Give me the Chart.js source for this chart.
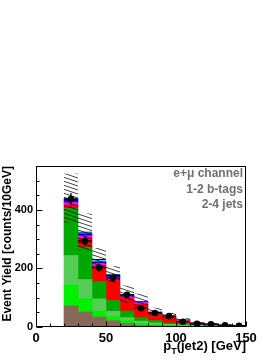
<!DOCTYPE html>
<html><head><meta charset="utf-8">
<script src="https://cdn.jsdelivr.net/npm/chart.js@4.4.0/dist/chart.umd.min.js"></script>
<style>html,body{margin:0;padding:0;background:#fff;} canvas{display:block;}</style>
</head><body>
<canvas id="c" width="279" height="361"></canvas>
<script>
// ---- data ----
const binCenters = [25, 35, 45, 55, 65, 75, 85, 95, 105, 115, 125, 135, 145];
const binHalfWidth = 5;
const mcBrown      = [72, 51, 34, 21, 12, 5, 4, 3, 2, 1, 1, 0.5, 0.4];
const mcBrightGrn  = [71, 45, 20, 14, 10, 7, 4, 3, 2, 2, 1, 0.8, 0.5];
const mcLightGrn   = [101, 66, 42, 19, 10, 8, 6, 3, 3, 2, 1, 0.8, 0.6];
const mcDarkGrn    = [161, 110, 59, 37, 22, 12, 8, 4, 4, 3, 2, 1.2, 0.8];
const mcRed        = [11, 31, 54, 67, 44, 46, 23, 20, 10, 5, 4, 2.5, 1.5];
const mcMagenta    = [11, 9, 9, 12, 8, 6, 4, 3, 2, 2, 1, 0.7, 0.4];
const mcBlue       = [11, 7, 5, 7, 4, 3, 2, 1, 1, 0.5, 0.5, 0.3, 0.2];
const mcCyan       = [2, 6, 8, 3, 2, 1, 1, 1, 0.5, 0.3, 0.3, 0.2, 0.1];
const mcErr        = [84, 63, 39, 28, 30, 26, 14, 10, 6, 4, 3, 2, 1.5];
const dataYield    = [437, 294, 203, 167, 110, 64, 48, 37, 18, 11, 9, 6, 4];
const dataErr      = [21, 17, 14, 13, 10, 8, 7, 6, 4, 3, 3, 2, 2];
const xMajorTicks  = [0, 50, 100, 150];
const xMinorTicks  = [10, 20, 30, 40, 60, 70, 80, 90, 110, 120, 130, 140];
const yMajorTicks  = [0, 200, 400];
const yMinorTicks  = [50, 100, 150, 250, 300, 350, 450, 500];
const annotation   = ['e+\u03bc channel', '1-2 b-tags', '2-4 jets'];
const yTitle = 'Event Yield [counts/10GeV]';
const xTitleMain = 'p', xTitleSub = 'T', xTitleRest = '(jet2) [GeV]';

const components = [
  {arr: mcBrown, color: '#86695a'},
  {arr: mcBrightGrn, color: '#00f000'},
  {arr: mcLightGrn, color: '#55cc55'},
  {arr: mcDarkGrn, color: '#00a800'},
  {arr: mcRed, color: '#ff0000'},
  {arr: mcMagenta, color: '#ff00ff'},
  {arr: mcBlue, color: '#0000ff'},
  {arr: mcCyan, color: '#00ffff'}
];
const mcTotal = binCenters.map((_, i) => components.reduce((s, c) => s + c.arr[i], 0));

// hatch pattern
function makeHatch() {
  const p = document.createElement('canvas');
  p.width = 12; p.height = 4;
  const g = p.getContext('2d');
  g.strokeStyle = 'rgba(0,0,0,0.8)';
  g.lineWidth = 0.9;
  g.beginPath();
  g.moveTo(-12, -4); g.lineTo(24, 8);
  g.moveTo(-12, 0); g.lineTo(12, 8);
  g.moveTo(0, -4); g.lineTo(24, 4);
  g.stroke();
  return g.createPattern(p, 'repeat');
}

const FONT = 'Liberation Sans, Arial, Helvetica, sans-serif';

const datasets = [];
datasets.push({
  type: 'line', label: 'Data', stack: 'data', order: 0,
  data: binCenters.map((x, i) => ({x, y: dataYield[i]})),
  showLine: false, pointRadius: 3.3, pointBackgroundColor: '#000', pointBorderColor: '#000', pointBorderWidth: 0
});
datasets.push({
  type: 'bar', label: 'MC uncertainty', stack: 'err', order: 1, grouped: false,
  data: binCenters.map((x, i) => ({x, y: [mcTotal[i] - mcErr[i], mcTotal[i] + mcErr[i]]})),
  backgroundColor: makeHatch(), borderWidth: 0, barPercentage: 1, categoryPercentage: 1, inflateAmount: 0
});
components.forEach((c, k) => {
  datasets.push({
    type: 'bar', label: 'c' + k, stack: 'mc', order: 2,
    data: binCenters.map((x, i) => ({x, y: c.arr[i]})),
    backgroundColor: c.color,
    borderColor: '#000',
    borderWidth: k === components.length - 1 ? {top: 1, left: 0, right: 0, bottom: 0} : 0,
    borderSkipped: false,
    barPercentage: 1, categoryPercentage: 1
  });
});

const decor = {
  id: 'decor',
  afterDatasetsDraw(chart) {
    const {ctx, scales: {x, y}} = chart;
    ctx.save();
    ctx.strokeStyle = '#000';
    ctx.lineWidth = 1.2;
    binCenters.forEach((c, i) => {
      const px = x.getPixelForValue(c);
      const py = y.getPixelForValue(dataYield[i]);
      ctx.beginPath();
      ctx.moveTo(x.getPixelForValue(c - binHalfWidth), py);
      ctx.lineTo(x.getPixelForValue(c + binHalfWidth), py);
      ctx.moveTo(px, y.getPixelForValue(dataYield[i] - dataErr[i]));
      ctx.lineTo(px, y.getPixelForValue(dataYield[i] + dataErr[i]));
      ctx.stroke();
    });
    ctx.restore();
  },
  afterDraw(chart) {
    const {ctx, chartArea: a, scales: {x, y}} = chart;
    ctx.save();
    ctx.strokeStyle = '#000';
    ctx.lineWidth = 1;
    const L = Math.round(a.left) + 0.5, R = Math.round(a.right) - 0.5;
    const T = Math.round(a.top) + 0.5, B = Math.round(a.bottom) - 0.5;
    ctx.strokeRect(L, T, R - L, B - T);
    ctx.beginPath();
    yMajorTicks.forEach(v => { const p = Math.round(y.getPixelForValue(v)) + 0.5; ctx.moveTo(L, p); ctx.lineTo(L + 6, p); });
    yMinorTicks.forEach(v => { const p = Math.round(y.getPixelForValue(v)) + 0.5; ctx.moveTo(L, p); ctx.lineTo(L + 3, p); });
    xMajorTicks.forEach(v => { const p = Math.round(x.getPixelForValue(v)) + 0.5; ctx.moveTo(p, B); ctx.lineTo(p, B - 5); });
    xMinorTicks.forEach(v => { const p = Math.round(x.getPixelForValue(v)) + 0.5; ctx.moveTo(p, B); ctx.lineTo(p, B - 3); });
    ctx.stroke();

    // x title
    ctx.fillStyle = '#000';
    ctx.textBaseline = 'alphabetic';
    const big = 'bold 13px ' + FONT, small = 'bold 9px ' + FONT;
    ctx.font = big; const w1 = ctx.measureText(xTitleMain).width; const w3 = ctx.measureText(xTitleRest).width;
    ctx.font = small; const w2 = ctx.measureText(xTitleSub).width;
    let sx = a.right - (w1 + w2 + w3);
    const base = 350;
    ctx.font = big; ctx.textAlign = 'left'; ctx.fillText(xTitleMain, sx, base);
    ctx.font = small; ctx.fillText(xTitleSub, sx + w1, base + 4);
    ctx.font = big; ctx.fillText(xTitleRest, sx + w1 + w2, base);

    // annotation
    ctx.fillStyle = '#707070';
    ctx.font = 'bold 12px ' + FONT;
    ctx.textAlign = 'right';
    const ys = [177, 192.5, 208];
    annotation.forEach((t, i) => ctx.fillText(t, 243, ys[i]));
    ctx.restore();
  }
};

new Chart(document.getElementById('c'), {
  type: 'bar',
  data: {datasets},
  options: {
    responsive: false,
    animation: false,
    devicePixelRatio: 1,
    layout: {padding: {top: 166, right: 33, left: 0, bottom: 0}},
    plugins: {legend: {display: false}, tooltip: {enabled: false}},
    scales: {
      x: {
        type: 'linear', min: 0, max: 150, stacked: true, offset: false,
        grid: {display: false, drawTicks: false}, border: {display: false},
        ticks: {stepSize: 50, padding: 4, color: '#000', font: {family: FONT, size: 13, weight: 'bold'}, maxRotation: 0, includeBounds: false},
        afterFit: s => { s.height = 34; }
      },
      y: {
        type: 'linear', min: 0, max: 550, stacked: true,
        grid: {display: false, drawTicks: false}, border: {display: false},
        ticks: {stepSize: 200, padding: 3, color: '#000', font: {family: FONT, size: 11, weight: 'bold'}, includeBounds: false,
          callback: v => (yMajorTicks.includes(v) ? String(v) : '')},
        title: {display: true, text: yTitle, align: 'end', color: '#000', font: {family: FONT, size: 12, weight: 'bold'}, padding: {top: 0.5, bottom: 0}},
        afterFit: s => { s.width = 36; }
      }
    }
  },
  plugins: [decor]
});
</script>
</body></html>
